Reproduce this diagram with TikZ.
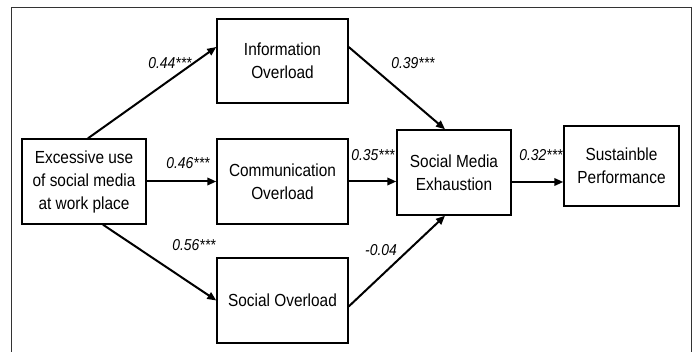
\documentclass[tikz,border=0pt]{standalone}
\usepackage{fontspec}
\setmainfont{Liberation Sans}
\newfontfamily\tallsans[FakeStretch=0.88]{Liberation Sans}
\usetikzlibrary{arrows.meta}

\begin{document}
\begin{tikzpicture}[x=1pt, y=-1pt,
    construct/.style={draw, line width=1.4pt, rectangle, align=center, inner sep=2pt,
        font=\tallsans\fontsize{17.5}{23}\selectfont},
    coef/.style={font=\tallsans\fontsize{15.8}{18}\selectfont\itshape},
    path/.style={line width=2pt, -{Triangle[length=9pt, width=7.5pt]}}]
    \useasboundingbox (0, 0) rectangle (697, 352);
    % frame
    \draw[line width=0.8pt, black!80] (11, 352) -- (11, 7) -- (691, 7) -- (691, 352);

    % constructs
    \node[construct, minimum width=124pt, minimum height=85pt] (exc)  at (84, 181.5)  {Excessive use\\of social media\\at work place};
    \node[construct, minimum width=131pt, minimum height=84pt] (info) at (282.5, 61)  {Information\\Overload};
    \node[construct, minimum width=131pt, minimum height=85pt] (comm) at (282.5, 181.5) {Communication\\Overload};
    \node[construct, minimum width=131pt, minimum height=85pt] (soc)  at (282.5, 300.5) {Social Overload};
    \node[construct, minimum width=114pt, minimum height=85pt] (sme)  at (454, 172.5) {Social Media\\Exhaustion};
    \node[construct, minimum width=115pt, minimum height=80pt] (sus)  at (621.5, 166) {Sustainble\\Performance};

    % paths
    \draw[path] ([xshift=4pt]exc.north) -- ([yshift=14pt]info.west);
    \draw[path] (exc.east) -- (comm.west);
    \draw[path] ([xshift=19pt]exc.south) -- (soc.west);
    \draw[path] ([yshift=14pt]info.east) -- ([xshift=-9pt]sme.north);
    \draw[path] (comm.east) -- (comm.east -| sme.west);
    \draw[path] ([yshift=-6pt]soc.east) -- ([xshift=-9pt]sme.south);
    \draw[path] ([yshift=-9.5pt]sme.east) -- ([yshift=-9.5pt]sme.east -| sus.west);

    % coefficients
    \node[coef] (w1) at (170, 63)  {0.44***};
    \node[coef] (w2) at (188, 163) {0.46***};
    \node[coef] (w3) at (194, 245) {0.56***};
    \node[coef] (w4) at (413, 63)  {0.39***};
    \node[coef] (w5) at (373, 155) {0.35***};
    \node[coef] (w6) at (381, 250) {-0.04};
    \node[coef] (w7) at (541, 155) {0.32***};
\end{tikzpicture}
\end{document}
